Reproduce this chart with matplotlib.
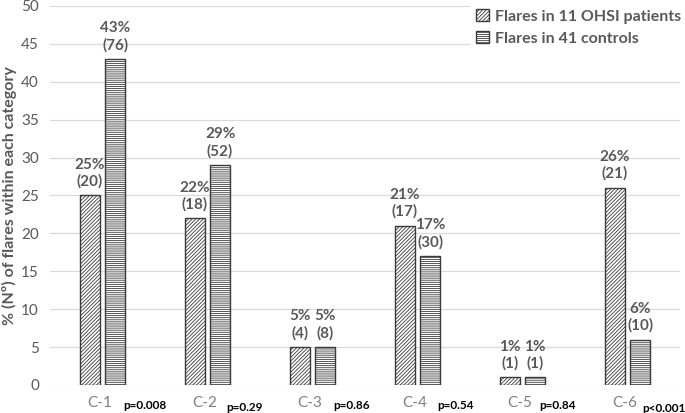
import numpy as np
import matplotlib.pyplot as plt

# data
categories = ["C-1", "C-2", "C-3", "C-4", "C-5", "C-6"]
ohsi_pct = [25, 22, 5, 21, 1, 26]
ohsi_n = [20, 18, 4, 17, 1, 21]
ctrl_pct = [43, 29, 5, 17, 1, 6]
ctrl_n = [76, 52, 8, 30, 1, 10]
p_values = ["p=0.008", "p=0.29", "p=0.86", "p=0.54", "p=0.84", "p<0.001"]
p_dx = [0.2, 0.18, 0.2, 0.19, 0.16, 0.14]   # where each p label starts, from category centre
p_drop = [0, 1.5, 0, 0, 0, 2]               # small vertical offsets of the p labels (pt)

plt.rcParams['font.family'] = ['Lato', 'DejaVu Sans']
plt.rcParams['hatch.linewidth'] = 0.6

gray = "#595959"
edge = "#3a3a3a"

fig = plt.figure(figsize=(6.85, 4.13), dpi=100)
ax = fig.add_axes([50/685, 1 - 385/413, 630/685, (385 - 6)/413])

x = np.arange(len(categories))
w = 0.19
off = 0.12

b1 = ax.bar(x - off, ohsi_pct, w, facecolor="white", edgecolor=edge,
	linewidth=1.0, hatch="/////////", label="Flares in 11 OHSI patients", zorder=3)
b2 = ax.bar(x + off, ctrl_pct, w, facecolor="white", edgecolor=edge,
	linewidth=1.0, hatch="--------", label="Flares in 41 controls", zorder=3)

# value labels above bars
for xi, p, n in zip(x - off, ohsi_pct, ohsi_n):
	ax.annotate("%d%%\n(%d)" % (p, n), (xi, p), xytext=(0, 5), textcoords="offset points",
		ha="center", va="bottom", fontsize=11, fontweight="bold", color=gray, linespacing=1.2)
for xi, p, n in zip(x + off, ctrl_pct, ctrl_n):
	ax.annotate("%d%%\n(%d)" % (p, n), (xi, p), xytext=(0, 5), textcoords="offset points",
		ha="center", va="bottom", fontsize=11, fontweight="bold", color=gray, linespacing=1.2)

ax.set_xlim(-0.5, len(categories) - 0.5)
ax.set_ylim(0, 50)
ax.set_yticks(np.arange(0, 51, 5))
ax.set_xticks(x - 0.03)
ax.set_xticklabels(categories, fontsize=11, color="#7f7f7f")
ax.tick_params(axis="x", length=0, pad=8)
ax.tick_params(axis="y", length=0, labelsize=11, labelcolor=gray, pad=8)

# p-values next to category labels
for xi, dx, pv, d in zip(x, p_dx, p_values, p_drop):
	ax.annotate(pv, (xi + dx, 0), xycoords=("data", "axes fraction"),
		xytext=(0, -15 - d), textcoords="offset points",
		ha="left", va="center", fontsize=8.5, fontweight="bold", color="black")

ax.grid(axis="y", color="#d9d9d9", linewidth=0.9, zorder=0)
ax.set_axisbelow(True)
for s in ax.spines.values():
	s.set_visible(False)

ax.set_ylabel("% (Nº) of flares within each category", fontsize=11.5,
	fontweight="bold", color=gray, labelpad=3)

leg = ax.legend(loc="upper right", bbox_to_anchor=(1.025, 1.03), frameon=True,
	fancybox=False, edgecolor="none", facecolor="white", framealpha=1,
	handlelength=0.8, handleheight=0.8, handletextpad=0.4, labelspacing=0.45,
	prop={"size": 11.5, "weight": "bold"})
for t in leg.get_texts():
	t.set_color(gray)

fig.savefig("out.png", dpi=100)
